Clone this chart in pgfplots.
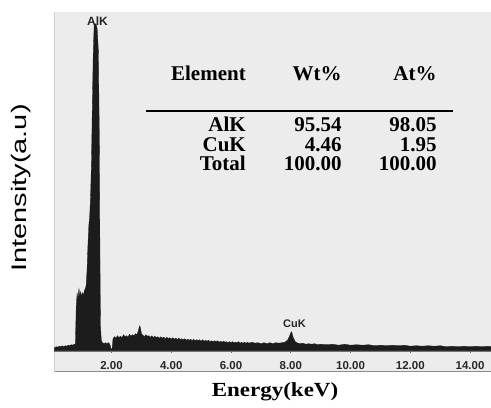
\documentclass[border=0pt]{standalone}
\usepackage{pgfplots}
\pgfplotsset{compat=1.18}
\usepackage{pgfplotstable}
\usepackage{fontspec}
\setmainfont{Liberation Serif}
\setsansfont{Liberation Sans}
\definecolor{panel}{RGB}{236,236,236}
\definecolor{spec}{RGB}{28,28,28}
\definecolor{ticktxt}{RGB}{40,40,40}

\pgfplotstableread{
E I
0.09 3
0.15 4
0.20 3.5
0.25 4.5
0.30 4
0.35 5
0.40 4
0.45 5
0.50 4.5
0.55 5.5
0.60 5
0.65 6
0.70 5.5
0.75 6.5
0.79 6
0.82 45
0.85 58
0.87 50
0.89 56
0.91 62
0.94 55
0.97 59
1.00 54
1.03 58
1.06 55
1.09 60
1.12 62
1.15 65
1.18 80
1.21 105
1.24 125
1.27 135
1.30 155
1.33 190
1.36 250
1.39 300
1.42 326
1.48 327
1.52 322
1.56 300
1.59 220
1.61 110
1.63 25
1.66 10
1.70 8
1.75 7
1.80 8
1.85 7
1.90 8
1.95 6
1.98 2
2.02 2
2.05 12
2.10 14
2.15 12.5
2.20 15
2.25 13
2.30 14.5
2.35 13
2.40 16
2.45 14
2.50 15
2.55 13.5
2.60 16.5
2.65 14.5
2.70 16
2.75 15
2.80 17
2.85 16
2.90 20
2.94 25
2.97 23
3.00 17
3.05 15.5
3.10 14
3.15 16
3.20 14.5
3.25 15
3.30 13.5
3.35 15
3.40 13
3.45 14.5
3.50 13
3.55 14
3.60 12.5
3.65 14
3.70 12.5
3.75 13.5
3.80 12
3.85 13.5
3.90 12
3.95 13
4.00 11.5
4.05 13
4.10 11.5
4.15 12.5
4.20 11
4.25 12.5
4.30 11
4.35 12
4.40 11
4.45 12
4.50 10.5
4.55 11.5
4.60 10.5
4.65 11.5
4.70 10
4.75 11.5
4.80 10
4.85 11
4.90 10
4.95 11
5.00 9.5
5.05 11
5.10 9.5
5.15 10.5
5.20 9.5
5.25 10.5
5.30 9
5.35 10
5.40 9
5.45 10
5.50 9
5.55 10
5.60 8.5
5.65 9.5
5.70 8.5
5.75 9.5
5.80 8.5
5.85 9
5.90 8
5.95 9
6.00 8
6.05 9
6.10 8
6.15 8.5
6.20 8
6.25 9
6.30 7.5
6.35 8.5
6.40 7.5
6.45 8.5
6.50 7.5
6.55 8.5
6.60 7.5
6.70 8.5
6.80 7.5
6.90 8
7.00 7
7.10 8
7.20 7
7.30 8
7.40 7
7.50 8
7.60 7.5
7.70 8
7.80 8.5
7.85 9.5
7.90 11
7.95 14
8.00 18
8.03 19
8.06 15
8.10 12
8.15 9
8.20 8
8.30 7
8.40 7.5
8.50 6.5
8.60 7
8.70 6.5
8.80 7
8.90 6
9.00 6.5
9.20 6
9.40 6.5
9.60 5.5
9.80 6.5
10.00 5.5
10.20 6
10.40 5.5
10.60 6
10.80 5
11.00 5.5
11.20 5
11.40 5.5
11.60 5
11.80 5.5
12.00 4.5
12.20 5
12.40 4.5
12.60 5
12.80 4.5
13.00 5
13.20 4
13.40 4.5
13.60 4
13.80 4.5
14.00 4
14.20 4.5
14.40 4
14.60 4.5
14.70 4
}\spectrum

\begin{document}
\begin{tikzpicture}
\path[use as bounding box] (-54.3bp,-57.3bp) rectangle (436.7bp,350.7bp);
% gray panel
\fill[panel] (0,-21bp) rectangle (436.7bp,339bp);
\draw[black!45, line width=1bp] (0,-21bp) -- (436.7bp,-21bp);
\draw[black!18, line width=0.8bp] (0,-21bp) -- (0,339bp);
\begin{axis}[
  at={(0,0)}, anchor=south west,
  scale only axis, width=436.7bp, height=339bp,
  xmin=0.085, xmax=14.70, ymin=0, ymax=339,
  axis y line=none, axis x line*=bottom,
  x axis line style={draw=black!55, line width=1.6bp, -},
  ytick=\empty,
  xtick={2,4,6,8,10,12,14},
  xticklabels={2.00,4.00,6.00,8.00,10.00,12.00,14.00},
  tick align=center, major tick length=4bp,
  tick style={draw=black!60, line width=0.8bp},
  xticklabel style={font=\sffamily\bfseries\fontsize{11.5bp}{13bp}\selectfont, text=ticktxt, anchor=base, yshift=-16.5bp},
  xlabel={Energy(keV)},
  xlabel style={font=\rmfamily\bfseries\fontsize{20bp}{24bp}\selectfont, at={(axis description cs:0.5054,-0.1218)}, anchor=center, xscale=1.15},
]
\addplot[fill=spec, draw=spec, line width=0.3bp] table[x=E, y=I] {\spectrum} \closedcycle;
\end{axis}
% y label
\node[font=\sffamily\fontsize{21bp}{25bp}\selectfont, rotate=90, inner sep=0] at (-33.3bp,162.7bp) {\scalebox{1.38}[1]{Intensity(a.u)}};
% peak labels
\node[font=\sffamily\bfseries\fontsize{12bp}{14bp}\selectfont, text=black!85, inner sep=0] at (43.2bp,329.7bp) {AlK};
\node[font=\sffamily\bfseries\fontsize{11bp}{13bp}\selectfont, text=black!85, inner sep=0] at (240.2bp,26.7bp) {CuK};
% composition table
\begin{scope}[font=\rmfamily\bfseries\fontsize{21bp}{25bp}\selectfont, every node/.style={inner sep=0, anchor=base east}]
\node at (191.7bp,269.7bp) {Element};
\node at (287.4bp,269.7bp) {Wt\%};
\node at (382.4bp,269.7bp) {At\%};
\draw[black, line width=1.4bp] (91.7bp,239.7bp) -- (399bp,239.7bp);
\node at (191.7bp,219bp) {AlK};
\node at (287.4bp,219bp) {95.54};
\node at (382.4bp,219bp) {98.05};
\node at (191.7bp,199.2bp) {CuK};
\node at (287.4bp,199.2bp) {4.46};
\node at (382.4bp,199.2bp) {1.95};
\node at (191.7bp,179.7bp) {Total};
\node at (287.4bp,179.7bp) {100.00};
\node at (382.4bp,179.7bp) {100.00};
\end{scope}
\end{tikzpicture}
\end{document}
